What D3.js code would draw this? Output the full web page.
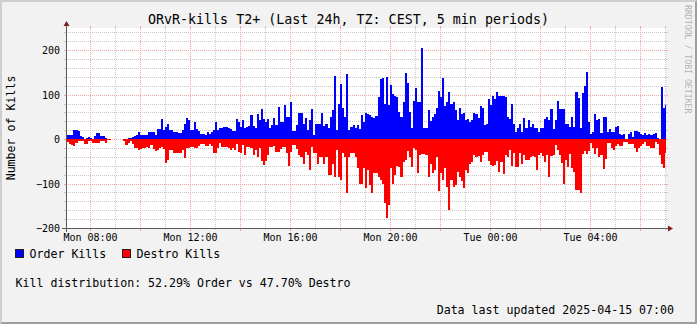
<!DOCTYPE html>
<html>
<head>
<meta charset="utf-8">
<script src="https://cdn.jsdelivr.net/npm/d3@7"></script>
<style>
  html, body { margin: 0; padding: 0; background: #f2f2f2; }
  svg { display: block; }
  text { font-family: "DejaVu Sans Mono", monospace; fill: #000; }
</style>
</head>
<body>
<svg id="chart" width="697" height="324"></svg>
<script>
// ---- chart content -------------------------------------------------------
const title = "ORvR-kills T2+ (Last 24h, TZ: CEST, 5 min periods)";
const yAxisTitle = "Number of Kills";
const seriesNames = ["Order Kills", "Destro Kills"];
const seriesColors = ["#0000ff", "#ff0000"];
const distributionText = "Kill distribution: 52.29% Order vs 47.70% Destro";
const updatedText = "Data last updated 2025-04-15 07:00";
const watermark = "RRDTOOL / TOBI OETIKER";

// time window: 24 hours starting Mon 07:00, one value per 5 minutes
const rangeStart = new Date(2025, 3, 14, 7, 0);
const rangeHours = 24;
const startHour = 7;
const stepMinutes = 5;
const dayNames = ["Mon", "Tue"];

const yDomain = [-200, 250];
const yMajorTicks = [-200, -100, 0, 100, 200];
const yMinorStep = 20;

// kills per 5-minute period, starting Mon 07:00 (null = no data)
const orderKills = [
  8, 9, 9, 10, 20, 20, 18, 7, 5, 1, 3, 4, 3, 0, 7, 14, 14, 7, 7, 2, 1, 1,
  null, null, null, null, null, null,
  0, 1, 2, 2, 5, 6, 10, 16, 9, 9, 9, 9, 17, 17, 17, 9, 22, 22,
  45, 20, 28, 34, 20, 20, 17, 17, 13, 13, 20, 35, 47, 44, 20, 20, 39, 23, 19, 11, 11, 9, 17, 11,
  15, 20, 39, 20, 26, 26, 28, 28, 24, 22, 19, 19, 45, 38, 28, 43, 24, 28, 29, 54, 29, 24, 56, 43,
  67, 45, 38, 45, 25, 32, 47, 32, 73, 39, 39, 77, 50, 50, 84, 19, 19, 32, 58, 58, 34, 47, 20, 43,
  67, 9, 35, 35, 35, 59, 29, 35, 24, 50, 65, 142, 20, 80, 125, 69, 50, 147, 20, 28, 32, 24, 32, 22,
  54, 39, 59, 56, 54, 49, 47, 52, 94, 135, 137, 80, 139, 77, 122, 101, 97, 94, 62, 50, 84, 148, 126, 62,
  24, 86, 114, 84, 84, 205, 26, 26, 65, 41, 50, 56, 69, 108, 95, 137, 74, 84, 107, 80, 84, 65, 43, 69,
  56, 59, 44, 46, 39, 44, 58, 56, 48, 74, 70, 31, 34, 90, 77, 97, 90, 105, 98, 98, 98, 95, 49, 45,
  78, 33, 17, 24, 35, 17, 48, 26, 43, 28, 35, 26, 26, 15, 26, 26, 45, 50, 43, 67, 22, 44, 85, 67,
  67, 68, 34, 34, 28, 50, 28, 107, 93, 26, 104, 120, 152, 38, 12, 15, 56, 43, 46, 14, 50, 50, 15, 23,
  16, 16, 28, 29, 11, 9, 12, 0, 11, 17, 5, 18, 18, 15, 11, 9, 13, 10, 11, 9, 11, 13, 3, 1, 118, 71, 77
];
const destroKills = [
  5, 6, 11, 13, 16, 8, 5, 5, 5, 10, 10, 5, 5, 8, 8, 8, 8, 5, 5, 8, 2, 2,
  null, null, null, null, null, null,
  4, 13, 8, 5, 11, 21, 21, 25, 22, 20, 20, 17, 19, 13, 22, 27, 25, 21,
  17, 23, 53, 47, 25, 25, 32, 32, 32, 32, 25, 43, 21, 21, 17, 17, 19, 19, 16, 10, 10, 16, 16, 11,
  16, 32, 32, 21, 8, 17, 17, 17, 21, 25, 21, 25, 11, 29, 32, 14, 36, 17, 17, 21, 36, 25, 40, 21,
  50, 59, 50, 35, 17, 17, 16, 29, 29, 23, 17, 17, 32, 61, 29, 13, 13, 23, 36, 40, 55, 29, 36, 70,
  17, 31, 32, 55, 40, 41, 55, 41, 81, 81, 55, 85, 25, 85, 91, 32, 40, 122, 40, 32, 32, 40, 64, 101,
  100, 66, 110, 70, 104, 122, 77, 77, 85, 92, 100, 144, 177, 149, 66, 101, 81, 61, 62, 85, 51, 47, 26, 40,
  62, 21, 25, 77, 36, 34, 34, 36, 85, 55, 77, 70, 40, 116, 77, 92, 66, 107, 159, 92, 107, 104, 74, 85,
  94, 111, 70, 76, 56, 51, 36, 41, 38, 51, 36, 30, 30, 49, 59, 61, 59, 49, 74, 51, 79, 36, 41, 25,
  60, 31, 62, 62, 31, 55, 36, 47, 46, 40, 38, 41, 70, 36, 31, 38, 51, 36, 86, 38, 36, 13, 25, 36,
  53, 101, 47, 62, 34, 66, 74, 115, 115, 121, 34, 26, 34, 26, 8, 21, 34, 21, 40, 36, 67, 44, 8, 8,
  20, 25, 16, 11, 16, 16, 6, 6, 10, 12, 12, 21, 29, 21, 15, 10, 6, 16, 16, 21, 21, 6, 12, 36, 55, 64, 31
];

// ---- layout ---------------------------------------------------------------
const W = 697, H = 324;
const plot = { left: 66, right: 666, top: 28, bottom: 228 };
const col = {
  back: "#f2f2f2", canvas: "#ffffff", shadeA: "#cfcfcf", shadeB: "#9e9e9e",
  grid: "#c6c6c6", mgrid: "#eea6a6",
  arrow: "#801f1f", axis: "#5a5a5a", frame: "#1f1f1f"
};

const svg = d3.select("#chart");

// hours since the window start -> pixels
const x = d3.scaleLinear().domain([0, rangeHours]).range([plot.left - 1, plot.right - 1]);
const y = d3.scaleLinear().domain(yDomain).range([plot.bottom, plot.top]);
const px = v => Math.round(v) + 0.5;

// background and 3d border
svg.append("rect").attr("width", W).attr("height", H).attr("fill", col.back);
svg.append("path").attr("fill", col.shadeA)
  .attr("d", `M0,${H}L2,${H - 2}L2,2L${W - 2},2L${W},0L0,0Z`);
svg.append("path").attr("fill", col.shadeB)
  .attr("d", `M2,${H - 2}L${W - 2},${H - 2}L${W - 2},2L${W},0L${W},${H}L0,${H}Z`);

// canvas
svg.append("rect")
  .attr("x", plot.left).attr("y", plot.top)
  .attr("width", plot.right - plot.left).attr("height", plot.bottom - plot.top)
  .attr("fill", col.canvas);

// ---- grid ---------------------------------------------------------------
const gridG = svg.append("g").attr("shape-rendering", "crispEdges").attr("stroke-width", 1);

function hLine(v, c) {
  const yy = px(y(v));
  gridG.append("line").attr("x1", plot.left - 2).attr("x2", plot.right + 2).attr("y1", yy).attr("y2", yy)
    .attr("stroke", c).attr("stroke-dasharray", "1,1");
  gridG.append("line").attr("x1", plot.left - 2).attr("x2", plot.left).attr("y1", yy).attr("y2", yy).attr("stroke", c);
  gridG.append("line").attr("x1", plot.right).attr("x2", plot.right + 2).attr("y1", yy).attr("y2", yy).attr("stroke", c);
}
d3.range(yDomain[0], yDomain[1] + 1, yMinorStep)
  .filter(v => !yMajorTicks.includes(v))
  .forEach(v => hLine(v, col.grid));
yMajorTicks.forEach(v => hLine(v, col.mgrid));

// vertical: one line per hour, stronger every 2 hours, labels every 4 hours
const hours = d3.range(1, rangeHours + 1);
const clock = h => (startHour + h) % 24;
hours.forEach(h => {
  const xx = px(x(h));
  if (xx < plot.left || xx > plot.right) return;
  const major = clock(h) % 2 === 0;
  const c = major ? col.mgrid : col.grid;
  gridG.append("line").attr("x1", xx).attr("x2", xx).attr("y1", plot.top - 2).attr("y2", plot.bottom + 1)
    .attr("stroke", c).attr("stroke-dasharray", "1,1");
  gridG.append("line").attr("x1", xx).attr("x2", xx).attr("y1", plot.top - 2).attr("y2", plot.top).attr("stroke", c);
  gridG.append("line").attr("x1", xx).attr("x2", xx).attr("y1", plot.bottom).attr("y2", plot.bottom + (major ? 3 : 2)).attr("stroke", c);
});

// ---- data areas -----------------------------------------------------------
svg.append("clipPath").attr("id", "plotClip").append("rect")
  .attr("x", plot.left).attr("y", plot.top)
  .attr("width", plot.right - plot.left).attr("height", plot.bottom - plot.top);

function stepPoints(values, sign) {
  const pts = [];
  values.forEach((v, i) => {
    const h0 = i * stepMinutes / 60, h1 = (i + 1) * stepMinutes / 60;
    const val = v == null ? null : sign * v;
    pts.push({ h: h0, v: val }, { h: h1, v: val });
  });
  return pts;
}
const area = d3.area()
  .defined(d => d.v != null)
  .x(d => x(d.h))
  .y0(y(0))
  .y1(d => y(d.v));

const dataG = svg.append("g").attr("clip-path", "url(#plotClip)").attr("shape-rendering", "crispEdges");
dataG.append("path").attr("d", area(stepPoints(orderKills, 1))).attr("fill", seriesColors[0]);
dataG.append("path").attr("d", area(stepPoints(destroKills, -1))).attr("fill", seriesColors[1]);

// ---- axes -----------------------------------------------------------------
const axG = svg.append("g").attr("shape-rendering", "crispEdges");
axG.append("line").attr("x1", plot.left - 4).attr("x2", plot.right + 4)
  .attr("y1", plot.bottom + 0.5).attr("y2", plot.bottom + 0.5).attr("stroke", col.axis);
axG.append("line").attr("x1", plot.left + 0.5).attr("x2", plot.left + 0.5)
  .attr("y1", plot.bottom + 4).attr("y2", plot.top - 4).attr("stroke", col.axis);
svg.append("path").attr("fill", col.arrow)
  .attr("d", `M${plot.right + 2},${plot.bottom - 2.5}L${plot.right + 2},${plot.bottom + 3.5}L${plot.right + 7},${plot.bottom + 0.5}Z`);
svg.append("path").attr("fill", col.arrow)
  .attr("d", `M${plot.left - 2.5},${plot.top - 2}L${plot.left + 3.5},${plot.top - 2}L${plot.left + 0.5},${plot.top - 7}Z`);

// tick labels
const pad2 = d3.format("02d");
hours.forEach(h => {
  const c = clock(h);
  if (c % 4 !== 0) return;
  const xx = px(x(h));
  if (xx < plot.left || xx > plot.right) return;
  const day = dayNames[Math.floor((startHour + h) / 24)];
  svg.append("text").attr("x", xx).attr("y", 241).attr("text-anchor", "middle")
    .attr("font-size", "10px").text(`${day} ${pad2(c)}:00`);
});
yMajorTicks.forEach(v => {
  svg.append("text").attr("x", 60).attr("y", px(y(v)) + 3.5).attr("text-anchor", "end")
    .attr("font-size", "10px").text(d3.format("d")(v));
});

// ---- titles ---------------------------------------------------------------
svg.append("text").attr("x", 348.5).attr("y", 24).attr("text-anchor", "middle")
  .attr("font-size", "13.33px").text(title);
svg.append("text").attr("transform", `translate(14.5,${(plot.top + plot.bottom) / 2}) rotate(-90)`)
  .attr("text-anchor", "middle").attr("font-size", "11.6px").text(yAxisTitle);
svg.append("text").attr("transform", "translate(684.5,5) rotate(90)")
  .attr("font-size", "8.2px").style("fill", "rgba(0,0,0,0.3)").text(watermark);

// ---- legend ---------------------------------------------------------------
const legendX = [15, 122];
seriesNames.forEach((name, i) => {
  svg.append("rect").attr("x", legendX[i] + 0.5).attr("y", 249.5).attr("width", 8).attr("height", 8)
    .attr("fill", seriesColors[i]).attr("stroke", col.frame).attr("shape-rendering", "crispEdges");
  svg.append("text").attr("x", legendX[i] + 14.5).attr("y", 258).attr("font-size", "11.6px").text(name);
});
svg.append("text").attr("x", 15.5).attr("y", 286.5).attr("font-size", "11.6px").text(distributionText);
svg.append("text").attr("x", 674).attr("y", 314).attr("text-anchor", "end").attr("font-size", "11.6px").text(updatedText);
</script>
</body>
</html>
